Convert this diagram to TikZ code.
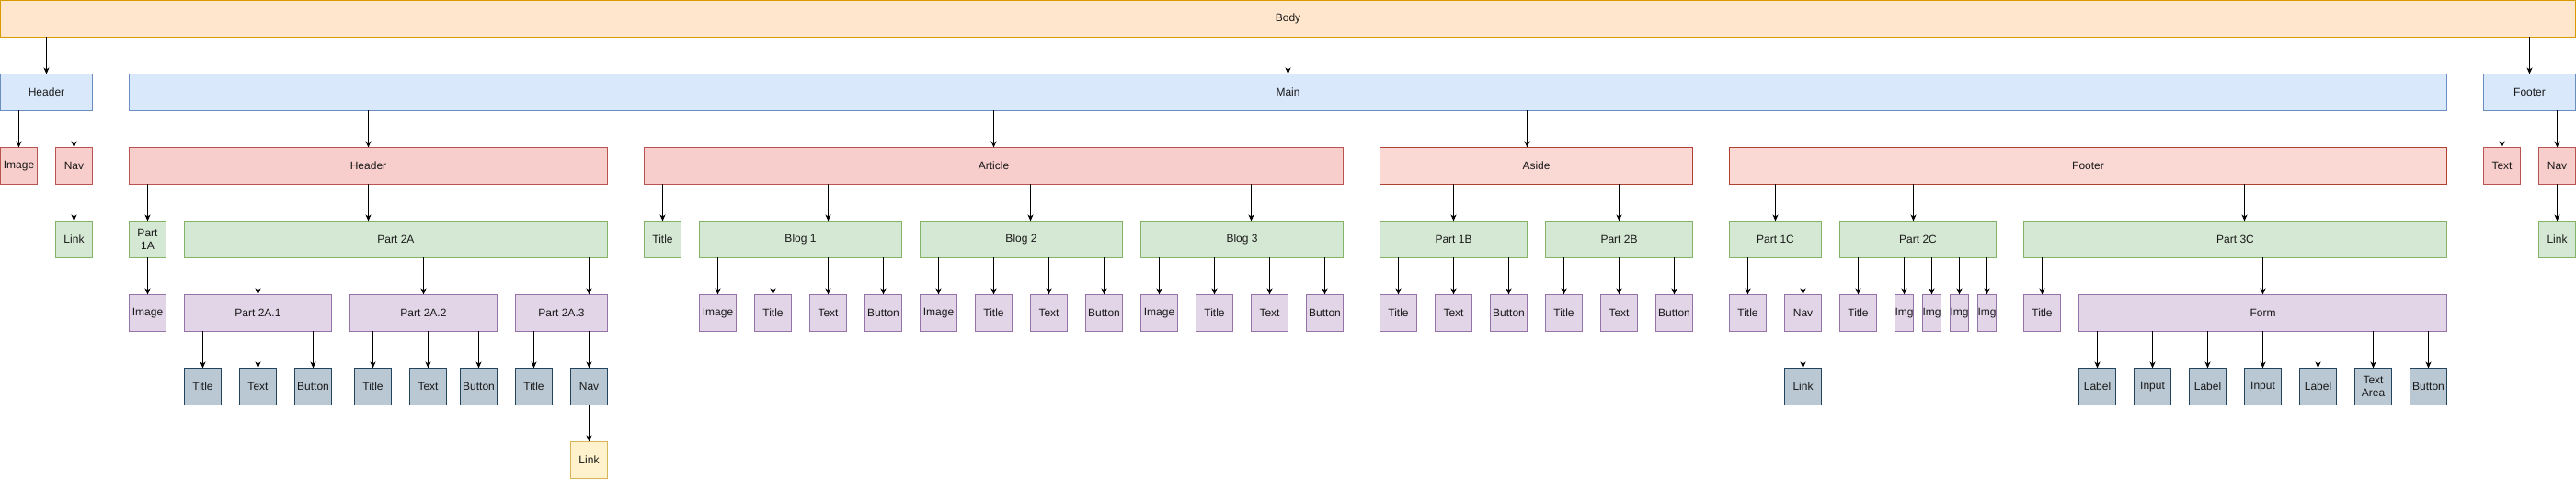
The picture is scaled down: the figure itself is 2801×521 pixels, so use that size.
\documentclass[tikz,border=0pt]{standalone}
\usepackage{fontspec}
\setmainfont{Liberation Sans}
\usetikzlibrary{arrows.meta}
\definecolor{orfill}{HTML}{FFE6CC}
\definecolor{orline}{HTML}{D79B00}
\definecolor{blfill}{HTML}{DAE8FC}
\definecolor{blline}{HTML}{6C8EBF}
\definecolor{rdfill}{HTML}{F8CECC}
\definecolor{rdline}{HTML}{B85450}
\definecolor{pkfill}{HTML}{FAD9D5}
\definecolor{pkline}{HTML}{AE4132}
\definecolor{grfill}{HTML}{D5E8D4}
\definecolor{grline}{HTML}{82B366}
\definecolor{pufill}{HTML}{E1D5E7}
\definecolor{puline}{HTML}{9673A6}
\definecolor{slfill}{HTML}{BAC8D3}
\definecolor{slline}{HTML}{23445D}
\definecolor{ylfill}{HTML}{FFF2CC}
\definecolor{ylline}{HTML}{D6B656}
\tikzset{
  cell/.style={draw, line width=1pt, inner sep=0pt, outer sep=0pt, minimum height=40pt, align=center, text=black!90},
  orangebox/.style={cell, fill=orfill, draw=orline},
  bluebox/.style={cell, fill=blfill, draw=blline},
  redbox/.style={cell, fill=rdfill, draw=rdline},
  pinkbox/.style={cell, fill=pkfill, draw=pkline},
  greenbox/.style={cell, fill=grfill, draw=grline},
  purplebox/.style={cell, fill=pufill, draw=puline},
  slatebox/.style={cell, fill=slfill, draw=slline},
  yellowbox/.style={cell, fill=ylfill, draw=ylline},
  arr/.style={-{Stealth[length=7pt, width=6pt, inset=2pt]}, line width=1pt}
}

\begin{document}
\begin{tikzpicture}[x=1pt, y=-1pt, font=\fontsize{12}{14}\selectfont]
    \useasboundingbox (-0.5,-0.5) rectangle (2800.5,520.5);

    % Body
    \node[orangebox, minimum width=2800pt] (body) at (1400,20) {Body};

    % Top level
    \node[bluebox, minimum width=100pt] (hdr) at (50,100) {Header};
    \node[bluebox, minimum width=2520pt] (main) at (1400,100) {Main};
    \node[bluebox, minimum width=100pt] (ftr) at (2750,100) {Footer};

    % Page header and page footer
    \node[redbox, minimum width=40pt] (himg) at (20,180) {Image};
    \node[redbox, minimum width=40pt] (hnav) at (80,180) {Nav};
    \node[greenbox, minimum width=40pt] (hlink) at (80,260) {Link};
    \node[redbox, minimum width=40pt] (ftxt) at (2720,180) {Text};
    \node[redbox, minimum width=40pt] (fnav) at (2780,180) {Nav};
    \node[greenbox, minimum width=40pt] (flink) at (2780,260) {Link};

    % Main sections
    \node[redbox, minimum width=520pt] (mhdr) at (400,180) {Header};
    \node[redbox, minimum width=760pt] (art) at (1080,180) {Article};
    \node[pinkbox, minimum width=340pt] (aside) at (1670,180) {Aside};
    \node[pinkbox, minimum width=780pt] (mftr) at (2270,180) {Footer};

    % Header parts
    \node[greenbox, minimum width=40pt] (pa1) at (160,260) {Part\\1A};
    \node[greenbox, minimum width=460pt] (pa2) at (430,260) {Part 2A};
    \node[purplebox, minimum width=40pt] (aimg) at (160,340) {Image};
    \node[purplebox, minimum width=160pt] (pa21) at (280,340) {Part 2A.1};
    \node[purplebox, minimum width=160pt] (pa22) at (460,340) {Part 2A.2};
    \node[purplebox, minimum width=100pt] (pa23) at (610,340) {Part 2A.3};
    \foreach \n/\x/\t in {t1/220/Title, x1/280/Text, b1/340/Button, t2/405/Title, x2/465/Text, b2/520/Button, t3/580/Title, n3/640/Nav}
        \node[slatebox, minimum width=40pt] (a\n) at (\x,420) {\t};
    \node[yellowbox, minimum width=40pt] (alink) at (640,500) {Link};

    % Article
    \node[greenbox, minimum width=40pt] (atit) at (720,260) {Title};
    \foreach \b/\x in {1/760, 2/1000, 3/1240} {
        \node[greenbox, minimum width=220pt] (blog\b) at (\x+110,260) {Blog \b};
        \foreach \i/\t in {0/Image, 1/Title, 2/Text, 3/Button} {
            \node[purplebox, minimum width=40pt] (b\b c\i) at (\x+20+60*\i,340) {\t};
            \draw[arr] (blog\b.south -| b\b c\i) -- (b\b c\i.north);
        }
    }

    % Aside
    \node[greenbox, minimum width=160pt] (pb1) at (1580,260) {Part 1B};
    \node[greenbox, minimum width=160pt] (pb2) at (1760,260) {Part 2B};
    \foreach \p/\x in {1/1500, 2/1680}
        \foreach \i/\t in {0/Title, 1/Text, 2/Button} {
            \node[purplebox, minimum width=40pt] (pb\p c\i) at (\x+20+60*\i,340) {\t};
            \draw[arr] (pb\p.south -| pb\p c\i) -- (pb\p c\i.north);
        }

    % Footer
    \node[greenbox, minimum width=100pt] (pc1) at (1930,260) {Part 1C};
    \node[greenbox, minimum width=170pt] (pc2) at (2085,260) {Part 2C};
    \node[greenbox, minimum width=460pt] (pc3) at (2430,260) {Part 3C};
    \node[purplebox, minimum width=40pt] (pc1t) at (1900,340) {Title};
    \node[purplebox, minimum width=40pt] (pc1n) at (1960,340) {Nav};
    \node[slatebox, minimum width=40pt] (pc1l) at (1960,420) {Link};
    \node[purplebox, minimum width=40pt] (pc2t) at (2020,340) {Title};
    \foreach \i in {0,...,3} {
        \node[purplebox, minimum width=20pt] (img\i) at (2070+30*\i,340) {\makebox[0pt]{Img}};
        \draw[arr] (pc2.south -| img\i) -- (img\i.north);
    }
    \node[purplebox, minimum width=40pt] (pc3t) at (2220,340) {Title};
    \node[purplebox, minimum width=400pt] (form) at (2460,340) {Form};
    \foreach \i/\t in {0/Label, 1/Input, 2/Label, 3/Input, 4/Label, 5/Text\\Area, 6/Button} {
        \node[slatebox, minimum width=40pt] (f\i) at (2280+60*\i,420) {\t};
        \draw[arr] (form.south -| f\i) -- (f\i.north);
    }

    % Arrows straight down to the child
    \foreach \p/\c in {body/hdr, body/main, body/ftr, hdr/himg, hdr/hnav, hnav/hlink, ftr/ftxt, ftr/fnav, fnav/flink,
        main/mhdr, main/art, mhdr/pa1, pa1/aimg, pa2/pa21, pa2/pa22, pa21/at1, pa21/ax1, pa21/ab1,
        pa22/at2, pa22/ax2, pa22/ab2, pa23/at3, pa23/an3, an3/alink, art/atit, aside/pb1, aside/pb2,
        mftr/pc1, pc1/pc1t, pc1/pc1n, pc1n/pc1l, pc2/pc2t, pc3/pc3t, pc3/form}
        \draw[arr] (\p.south -| \c) -- (\c.north);

    % Arrows off the child's centre
    \foreach \p/\c/\x in {mhdr/pa2/400, pa2/pa23/640, art/blog1/900, art/blog2/1120, art/blog3/1360,
        main/aside/1660, mftr/pc2/2080, mftr/pc3/2440} {
        \coordinate (k) at (\x,0);
        \draw[arr] (\p.south -| k) -- (\c.north -| k);
    }

\end{tikzpicture}
\end{document}
